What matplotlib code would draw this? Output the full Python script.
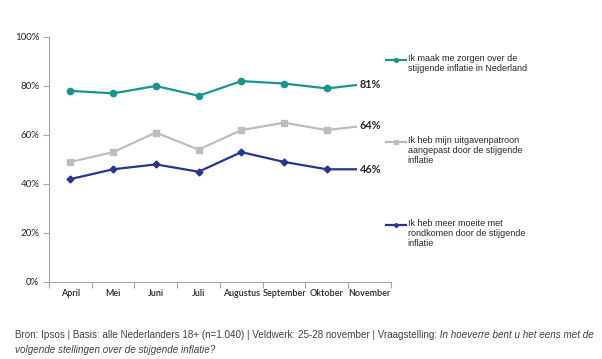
import numpy as np
import matplotlib.pyplot as plt
from matplotlib.lines import Line2D
from matplotlib.ticker import FixedLocator, PercentFormatter

months = ['April', 'Mei', 'Juni', 'Juli', 'Augustus', 'September', 'Oktober', 'November']
zorgen = [78, 77, 80, 76, 82, 81, 79, 81]
uitgaven = [49, 53, 61, 54, 62, 65, 62, 64]
moeite = [42, 46, 48, 45, 53, 49, 46, 46]

labels = ['Ik maak me zorgen over de\nstijgende inflatie in Nederland',
          'Ik heb mijn uitgavenpatroon\naangepast door de stijgende\ninflatie',
          'Ik heb meer moeite met\nrondkomen door de stijgende\ninflatie']

plt.rcParams['font.family'] = ['Liberation Sans', 'DejaVu Sans']

fig = plt.figure(figsize=(6.02, 3.59), dpi=100)
ax = fig.add_axes([0.0814, 0.2145, 0.568, 0.6825])

x = np.arange(len(months))
series = [
    (zorgen, '#16968F', 'o', 4.5),
    (uitgaven, '#BDBDBD', 's', 5),
    (moeite, '#27368F', 'D', 3.5),
]
for vals, col, mk, ms in series:
    ax.plot(x, vals, color=col, lw=1.6, marker=mk, ms=ms)
    # value label sits on the last point, white box hides the end of the line
    ax.annotate(f'{vals[-1]}%', (x[-1], vals[-1]), xytext=(0.5, -0.5),
                textcoords='offset points', va='center', ha='center',
                fontsize=7.8, fontweight='bold', color='#262626', family='Lato',
                bbox=dict(boxstyle='square,pad=0.25', fc='white', ec='none'),
                zorder=5)

ax.set_ylim(0, 100)
ax.set_xlim(-0.5, len(months) - 0.5)
ax.yaxis.set_major_locator(FixedLocator([0, 20, 40, 60, 80, 100]))
ax.yaxis.set_major_formatter(PercentFormatter(decimals=0))

ax.xaxis.set_major_locator(FixedLocator(np.arange(-0.5, len(months), 1)))
ax.xaxis.set_minor_locator(FixedLocator(x))
ax.set_xticklabels([])
ax.set_xticklabels(months, minor=True)
ax.tick_params(axis='x', which='major', length=4, color='#A6A6A6', direction='out')
ax.tick_params(axis='x', which='minor', length=0, pad=5, labelsize=6.5, labelcolor='#262626')
ax.tick_params(axis='y', length=4, color='#A6A6A6', labelsize=7, labelcolor='#262626', pad=3)
for lbl in ax.get_xticklabels(minor=True):
    lbl.set_family('Lato')
    lbl.set_fontweight('semibold')
for lbl in ax.get_yticklabels():
    lbl.set_family('Lato')

for s in ['top', 'right']:
    ax.spines[s].set_visible(False)
for s in ['left', 'bottom']:
    ax.spines[s].set_color('#A6A6A6')
    ax.spines[s].set_linewidth(0.8)

# legend entries at the right, handle aligned with first text line
leg_y = [0.832, 0.604, 0.373]
for (vals, col, mk, ms), lab, ly in zip(series, labels, leg_y):
    fig.add_artist(Line2D([0.641, 0.675], [ly, ly], color=col, lw=1.6,
                          transform=fig.transFigure))
    fig.add_artist(Line2D([0.658], [ly], color=col, marker=mk, ms=ms * 0.6,
                          transform=fig.transFigure))
    fig.text(0.677, ly + 0.018, lab, fontsize=6.5, va='top', ha='left',
             color='#262626', linespacing=1.15)

# footer with italic question
t1 = fig.text(0.025, 0.052, 'Bron: Ipsos | Basis: alle Nederlanders 18+ (n=1.040) | '
              'Veldwerk: 25-28 november | Vraagstelling:', fontsize=7.1,
              color='#404040', va='bottom')
fig.text(0.025, 0.012, 'volgende stellingen over de stijgende inflatie?', fontsize=7.1,
         color='#404040', va='bottom', style='italic')
ax.annotate(' In hoeverre bent u het eens met de', xy=(1, 0), xycoords=t1,
            va='bottom', ha='left', fontsize=7.1, color='#404040', style='italic',
            annotation_clip=False)

fig.savefig('out.png', dpi=100)
